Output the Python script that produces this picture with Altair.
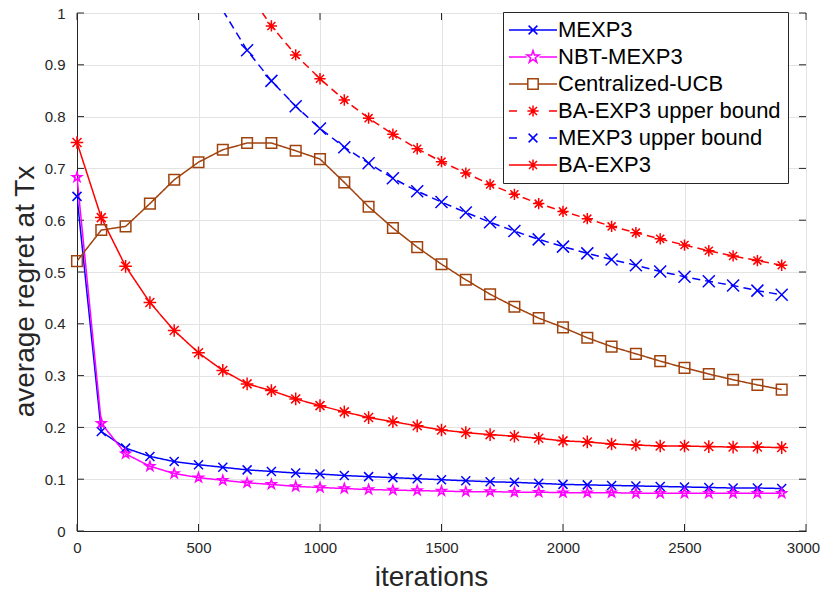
import math

import altair as alt
import pandas as pd

# ---------------------------------------------------------------- data
iterations = list(range(0, 3000, 100))

mexp3 = [0.646, 0.192, 0.160, 0.144, 0.134, 0.128, 0.123, 0.118, 0.115, 0.112,
         0.110, 0.107, 0.105, 0.103, 0.101, 0.099, 0.097, 0.095, 0.094, 0.092,
         0.090, 0.089, 0.088, 0.087, 0.086, 0.085, 0.084, 0.083, 0.083, 0.082]
nbt_mexp3 = [0.683, 0.208, 0.149, 0.125, 0.111, 0.103, 0.098, 0.093, 0.090, 0.086,
             0.084, 0.082, 0.080, 0.079, 0.078, 0.077, 0.076, 0.076, 0.075, 0.075,
             0.074, 0.074, 0.074, 0.073, 0.073, 0.073, 0.073, 0.073, 0.073, 0.073]
centralized_ucb = [0.521, 0.581, 0.588, 0.632, 0.678, 0.712, 0.736, 0.749, 0.749, 0.734,
                   0.718, 0.673, 0.626, 0.585, 0.548, 0.515, 0.485, 0.457, 0.433, 0.411,
                   0.393, 0.373, 0.356, 0.342, 0.328, 0.315, 0.303, 0.292, 0.282, 0.273]
ba_exp3 = [0.750, 0.605, 0.511, 0.441, 0.387, 0.344, 0.310, 0.284, 0.271, 0.255,
           0.242, 0.230, 0.219, 0.211, 0.203, 0.195, 0.190, 0.186, 0.183, 0.179,
           0.174, 0.172, 0.168, 0.166, 0.164, 0.164, 0.163, 0.162, 0.162, 0.161]
# bounds start where they come down into the plotted range
ba_exp3_ub_from = 700
ba_exp3_ub = [1.043, 0.975, 0.919, 0.873, 0.832, 0.797, 0.766, 0.738, 0.713, 0.691,
              0.669, 0.650, 0.632, 0.617, 0.603, 0.588, 0.576, 0.564, 0.552, 0.541,
              0.531, 0.522, 0.513]
mexp3_ub_from = 600
mexp3_ub = [1.005, 0.928, 0.869, 0.820, 0.777, 0.741, 0.710, 0.681, 0.656, 0.635,
            0.615, 0.596, 0.579, 0.563, 0.549, 0.536, 0.524, 0.513, 0.501, 0.491,
            0.482, 0.474, 0.464, 0.456]

series_names = ["MEXP3", "NBT-MEXP3", "Centralized-UCB",
                "BA-EXP3 upper bound", "MEXP3 upper bound", "BA-EXP3"]
x_ticks = [0, 500, 1000, 1500, 2000, 2500, 3000]
y_ticks = [0, 0.1, 0.2, 0.3, 0.4, 0.5, 0.6, 0.7, 0.8, 0.9, 1.0]

rows = []
for name, start, vals in [
    ("MEXP3", 0, mexp3),
    ("NBT-MEXP3", 0, nbt_mexp3),
    ("Centralized-UCB", 0, centralized_ucb),
    ("BA-EXP3 upper bound", ba_exp3_ub_from, ba_exp3_ub),
    ("MEXP3 upper bound", mexp3_ub_from, mexp3_ub),
    ("BA-EXP3", 0, ba_exp3),
]:
    xs = [t for t in iterations if t >= start]
    for t, v in zip(xs, vals):
        rows.append({"iteration": t, "value": v, "series": name})
df = pd.DataFrame(rows)

# ---------------------------------------------------------------- styles
W, H = 729, 518
INK = "#262626"
colors = ["#0000ff", "#ff00ff", "#a0420d", "#ff0000", "#0000ff", "#ff0000"]
dashes = [[1, 0], [1, 0], [1, 0], [8, 5], [8, 5], [1, 0]]


def cross(s):
    return f"M{-s},{-s}L{s},{s}M{-s},{s}L{s},{-s}"


def asterisk(s):
    d = round(s * 0.71, 3)
    return f"M{-s},0L{s},0M0,{-s}L0,{s}" + cross(d)


def square(s):
    return f"M{-s},{-s}L{s},{-s}L{s},{s}L{-s},{s}Z"


def star(s):
    pts = []
    for k in range(10):
        a = math.radians(-90 + 36 * k)
        r = s if k % 2 == 0 else s * 0.382
        pts.append(f"{round(r * math.cos(a), 3)},{round(r * math.sin(a), 3)}")
    return "M" + "L".join(pts) + "Z"


def seg(a, b):
    return f"M{a},0L{b},0"


marker_paths = [cross(1), star(1), square(1), asterisk(1), cross(1), asterisk(1)]
marker_sizes = [81, 160, 100, 121, 81, 121]

# legend glyphs: a short line sample with the marker in the middle
legend_paths = [
    seg(-3, 3) + cross(0.55),
    seg(-3, -0.8) + seg(0.8, 3) + star(0.8),
    seg(-3, -0.65) + seg(0.65, 3) + square(0.65),
    seg(-3, -2) + seg(2, 3) + asterisk(0.7),
    seg(-3, -2) + seg(2, 3) + cross(0.55),
    seg(-3, 3) + asterisk(0.7),
]

x_scale = alt.Scale(domain=[0, 3000], nice=False, zero=False)
y_scale = alt.Scale(domain=[0, 1], nice=False, zero=False)
color_scale = alt.Scale(domain=series_names, range=colors)

x_enc = alt.X(
    "iteration:Q", scale=x_scale,
    axis=alt.Axis(values=x_ticks, format="d", title="iterations", ticks=False,
                  labelFlush=False, labelPadding=9,
                  labelOffset=alt.ConditionalAxisNumber(
                      condition={"test": "datum.value == 3000", "value": -3},
                      value=0),
                  titleX=354, titleY=54, titleAlign="center",
                  titleBaseline="alphabetic"),
)
y_enc = alt.Y(
    "value:Q", scale=y_scale,
    axis=alt.Axis(values=y_ticks, format="~g", title="average regret at Tx",
                  ticks=False, labelFlush=False, labelPadding=12, titleX=-44,
                  titleY=278, titleAlign="center", titleBaseline="alphabetic"),
)

base = alt.Chart(df)

lines = base.mark_line(strokeWidth=1.5, clip=True).encode(
    x=x_enc, y=y_enc,
    color=alt.Color("series:N", scale=color_scale, legend=None),
    strokeDash=alt.StrokeDash("series:N",
                              scale=alt.Scale(domain=series_names, range=dashes),
                              legend=None),
)

markers = base.transform_filter("datum.value <= 1").mark_point(
    filled=False, strokeWidth=1.5, opacity=1
).encode(
    x=x_enc, y=y_enc,
    color=alt.Color("series:N", scale=color_scale, legend=None),
    shape=alt.Shape("series:N",
                    scale=alt.Scale(domain=series_names, range=marker_paths),
                    legend=None),
    size=alt.Size("series:N",
                  scale=alt.Scale(domain=series_names, range=marker_sizes),
                  legend=None),
)

# a trailing pad keeps the legend box as wide as the frame corner it sits in
legend_def = alt.Legend(title=None, orient="none", legendX=426, legendY=-1,
                        labelExpr="datum.label + '\u00a0\u00a0\u00a0'")
legend_layer = base.transform_filter("false").mark_point(
    filled=False, strokeWidth=1.5, opacity=1, size=256
).encode(
    x=x_enc, y=y_enc,
    color=alt.Color("series:N", scale=color_scale, legend=legend_def),
    shape=alt.Shape("series:N",
                    scale=alt.Scale(domain=series_names, range=legend_paths),
                    legend=legend_def),
)

# inward tick marks on all four sides of the box
xt = alt.Chart(pd.DataFrame({"t": x_ticks}))
yt = alt.Chart(pd.DataFrame({"t": y_ticks}))
tick_style = dict(color=INK, strokeWidth=1)
ticks_bottom = xt.mark_rule(**tick_style).encode(
    x=alt.X("t:Q", scale=x_scale), y=alt.value(H), y2=alt.value(H - 7))
ticks_top = xt.mark_rule(**tick_style).encode(
    x=alt.X("t:Q", scale=x_scale), y=alt.value(0), y2=alt.value(7))
ticks_left = yt.mark_rule(**tick_style).encode(
    y=alt.Y("t:Q", scale=y_scale), x=alt.value(0), x2=alt.value(7))
ticks_right = yt.mark_rule(**tick_style).encode(
    y=alt.Y("t:Q", scale=y_scale), x=alt.value(W), x2=alt.value(W - 7))

chart = (
    alt.layer(ticks_bottom, ticks_top, ticks_left, ticks_right,
              lines, markers, legend_layer)
    .resolve_scale(shape="independent", size="independent", color="independent")
    .properties(
        width=W, height=H,
        autosize=alt.AutoSizeParams(type="none"),
        padding={"left": 77, "top": 13, "right": 15, "bottom": 59},
        background="white",
    )
    .configure(font="Liberation Sans")
    .configure_view(stroke=INK, strokeWidth=1)
    .configure_axis(
        domainColor=INK, domainWidth=1, gridColor="#e3e3e3", gridWidth=1,
        labelColor=INK, labelFontSize=15, labelFont="Liberation Sans",
        titleColor=INK, titleFontSize=28, titleFontWeight="normal",
        titleFont="Liberation Sans",
    )
    .configure_legend(
        padding=7, strokeColor=INK, fillColor="white", cornerRadius=0,
        labelFontSize=22, labelColor="black", labelFont="Liberation Sans",
        labelLimit=400, rowPadding=5, symbolOffset=12, labelOffset=14,
        symbolStrokeWidth=1.5, symbolSize=256,
    )
)

chart.save("out.html", embed_options={"renderer": "svg", "actions": False})
